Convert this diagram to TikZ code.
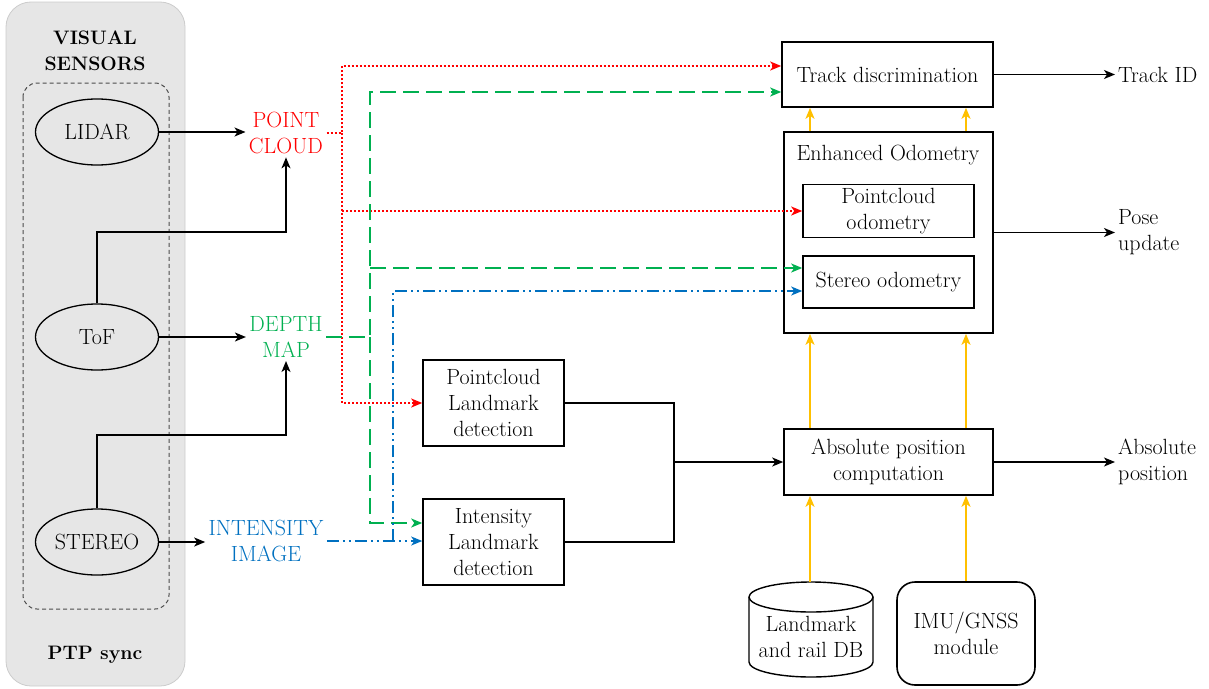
\documentclass[tikz,border=0pt]{standalone}
\usepackage{fontspec}
\usetikzlibrary{arrows.meta,shapes.geometric}
\definecolor{pcred}{HTML}{FF0000}
\definecolor{dmgreen}{HTML}{00B050}
\definecolor{iiblue}{HTML}{0070C0}
\definecolor{amber}{HTML}{FFC000}
\definecolor{panel}{HTML}{E6E6E6}
\begin{document}
\begin{tikzpicture}[x=1pt,y=-1pt,
  font=\rmfamily\fontsize{22}{26}\selectfont,
  >={Stealth[length=11pt,width=9pt,inset=3pt]},
  sensor/.style={ellipse, draw, line width=1.3pt, minimum width=123pt, minimum height=66pt, inner sep=0pt},
  block/.style={draw, line width=1.6pt, align=center, inner sep=0pt},
  datatag/.style={align=center, inner sep=3.3pt},
  flow/.style={line width=1.4pt},
  pcflow/.style={pcred, line width=1.6pt, dash pattern=on 2pt off 2pt},
  dmflow/.style={dmgreen, line width=1.6pt, dash pattern=on 16pt off 7pt},
  iiflow/.style={iiblue, line width=1.4pt, dash pattern=on 12pt off 4pt on 2pt off 4pt on 2pt off 4pt},
  feed/.style={amber, line width=1.8pt, ->},
  heading/.style={font=\rmfamily\fontsize{19.5}{26}\selectfont\bfseries, align=center}]
\useasboundingbox (0,0) rectangle (1209,688);

% sensor panel
\fill[panel, draw=gray!40, line width=0.8pt, rounded corners=25pt] (6,2) rectangle (185,686);
\draw[gray!60!black, line width=1pt, dash pattern=on 4pt off 3pt, rounded corners=14pt] (23,83) rectangle (169,609);
\node[heading] (vs) at (95,51) {VISUAL\\SENSORS};
\node[heading] (ptp) at (95,655) {PTP sync};

\node[sensor] (lidar) at (97,132) {LIDAR};
\node[sensor] (tof) at (97,337) {ToF};
\node[sensor] (stereo) at (97,542) {STEREO};

% data products
\node[datatag, text=pcred] (pc) at (286,133) {POINT\\CLOUD};
\node[datatag, text=dmgreen] (dm) at (286,337) {DEPTH\\MAP};
\node[datatag, text=iiblue] (ii) at (266,541) {INTENSITY\\IMAGE};

% processing blocks
\node[block, minimum width=211pt, minimum height=65pt] (td) at (887.5,74.5) {Track discrimination};
\node[block, minimum width=209pt, minimum height=201pt] (eo) at (888.5,232.5) {};
\node (eot) at (888,155) {Enhanced Odometry};
\node[block, minimum width=171pt, minimum height=53pt] (pco) at (888.5,211) {Pointcloud\\odometry};
\node[block, minimum width=171pt, minimum height=52pt] (so) at (888.5,282) {Stereo odometry};
\node[block, minimum width=209pt, minimum height=66pt] (apc) at (888.5,462) {Absolute position\\computation};
\node[block, minimum width=141pt, minimum height=86pt] (pld) at (493.5,403) {Pointcloud\\Landmark\\detection};
\node[block, minimum width=141pt, minimum height=86pt] (ild) at (493.5,542) {Intensity\\Landmark\\detection};
\node[block, rounded corners=18pt, minimum width=138pt, minimum height=103pt] (imu) at (966,633.5) {IMU/GNSS\\module};

% landmark database cylinder
\draw[line width=1.4pt, fill=white] (749,597) -- (749,662) arc[start angle=180, end angle=360, x radius=62pt, y radius=15pt] -- (873,597);
\draw[line width=1.4pt] (811,597) ellipse[x radius=62pt, y radius=15pt];
\node[align=center] (db) at (811,637) {Landmark\\and rail DB};
\coordinate (dbtop) at (811,582);

% outputs
\node[anchor=west, inner sep=3pt] (tid) at (1115,74.5) {Track ID};
\node[anchor=west, inner sep=3pt, align=left] (pose) at (1115,232.5) {Pose\\update};
\node[anchor=west, inner sep=3pt, align=left] (abs) at (1115,462) {Absolute\\position};

% sensor to data links
\coordinate (tofb) at (286,232);
\coordinate (stb) at (286,435);
\draw[flow,->] (lidar) -- (pc.west |- lidar);
\draw[flow,->] (tof) -- (dm.west |- tof);
\draw[flow,->] (stereo) -- (ii.west |- stereo);
\draw[flow,->] (tof.north) |- (pc.south |- tofb) -- (pc.south);
\draw[flow,->] (stereo.north) |- (dm.south |- stb) -- (dm.south);

% point cloud distribution
\coordinate (rtop) at (342,66);
\draw[pcflow,->] (pc.east) -| (rtop) -- (rtop -| td.west);
\draw[pcflow,->] (pc.east -| rtop) |- (pld.west);
\draw[pcflow,->] (rtop |- pco.west) -- (pco.west);

% depth map distribution
\coordinate (gtop) at (370,92);
\coordinate (gso) at (370,268);
\coordinate (gbot) at (370,523);
\draw[dmflow,->] (dm.east) -| (gtop) -- (gtop -| td.west);
\draw[dmflow,->] (dm.east -| gtop) -- (gbot) -- (gbot -| ild.west);
\draw[dmflow,->] (gso) -- (gso -| so.west);

% intensity image distribution
\coordinate (btop) at (393,291);
\draw[iiflow,->] (ii.east) -- (ii.east -| ild.west);
\draw[iiflow,->] (btop |- ii.east) -- (btop) -- (btop -| so.west);

% landmark detections merge into absolute position
\coordinate (join) at (674,462);
\draw[flow] (pld.east) -| (join) |- (ild.east);
\draw[flow,->] (join) -- (apc.west);

% auxiliary feeds
\coordinate (xl) at (810,0);
\coordinate (xr) at (966,0);
\draw[feed] (eo.north -| xl) -- (td.south -| xl);
\draw[feed] (eo.north -| xr) -- (td.south -| xr);
\draw[feed] (apc.north -| xl) -- (eo.south -| xl);
\draw[feed] (apc.north -| xr) -- (eo.south -| xr);
\draw[feed] (dbtop -| xl) -- (apc.south -| xl);
\draw[feed] (imu.north) -- (imu.north |- apc.south);

% output links
\draw[flow,->] (td.east) -- (tid.west);
\draw[flow,->] (eo.east) -- (pose.west);
\draw[flow,->] (apc.east) -- (abs.west);
\end{tikzpicture}
\end{document}
